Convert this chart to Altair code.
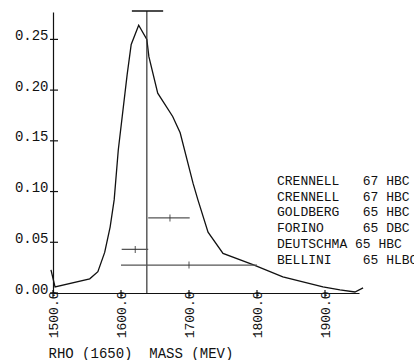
import altair as alt
import pandas as pd

NB = "\u00a0"

# Ideogram curve (mass MeV, weight)
curve_mass = [1497, 1503, 1554, 1566, 1576, 1584, 1590, 1596, 1609, 1615, 1626,
              1638, 1641, 1654, 1676, 1687, 1706, 1713, 1728, 1750, 1794, 1838,
              1897, 1922, 1944, 1956]
curve_val = [0.0227, 0.006, 0.014, 0.021, 0.040, 0.065, 0.092, 0.141, 0.215, 0.245,
             0.264, 0.250, 0.233, 0.197, 0.174, 0.158, 0.108, 0.092, 0.060, 0.039,
             0.028, 0.016, 0.006, 0.003, 0.001, 0.005]

# Average mass and its error (vertical line with top bar)
avg_mass = 1638
avg_lo = 1616
avg_hi = 1662
avg_top = 0.278

# Measurements (error bars)
meas_mass = [1672, 1621, 1700]
meas_lo = [1640, 1601, 1600]
meas_hi = [1701, 1640, 1800]
meas_y = [0.074, 0.043, 0.0275]

# Legend entries
leg_name = ["CRENNELL", "CRENNELL", "GOLDBERG", "FORINO", "DEUTSCHMA", "BELLINI"]
leg_year = ["67", "67", "65", "65", "65", "65"]
leg_kind = ["HBC", "HBC", "HBC", "DBC", "HBC", "HLBC"]

x_ticks = [1500, 1600, 1700, 1800, 1900]
y_ticks = [0.0, 0.05, 0.10, 0.15, 0.20, 0.25]

FONT = "Liberation Mono"
W, H = 306, 281

xs = alt.Scale(domain=[1500, 1950], nice=False, zero=False)
ys = alt.Scale(domain=[0, 0.277], nice=False, zero=True)

curve_df = pd.DataFrame({"m": curve_mass, "v": curve_val, "o": range(len(curve_mass))})
meas_df = pd.DataFrame({"m": meas_mass, "lo": meas_lo, "hi": meas_hi, "y": meas_y})
avg_df = pd.DataFrame({"m": [avg_mass], "lo": [avg_lo], "hi": [avg_hi], "top": [avg_top], "b": [0.0]})
yt_df = pd.DataFrame({"v": y_ticks})
xt_df = pd.DataFrame({"m": x_ticks})

axis_x = alt.Axis(values=x_ticks, format=".1f", labelAngle=-90, tickSize=0,
                  labelPadding=-2, labelFont=FONT, labelFontSize=13, labelColor="#111",
                  domainColor="#111", domainWidth=1.2, grid=False,
                  title=f"RHO{NB}(1650){NB}{NB}MASS{NB}(MEV)", titleFont=FONT,
                  titleFontSize=14, titleFontWeight="normal", titleColor="#111",
                  titleAnchor="start", titleAlign="left", titleX=-5, titleY=64,
                  titleBaseline="alphabetic")
axis_y = alt.Axis(values=y_ticks, format=".2f", tickSize=0, labelPadding=5,
                  labelFont=FONT, labelFontSize=14, labelColor="#111",
                  labelBaseline="alphabetic", labelAlign="right",
                  domainColor="#111", domainWidth=1.2, grid=False, title=None)

curve = alt.Chart(curve_df).mark_line(color="#111", strokeWidth=1.3).encode(
    x=alt.X("m:Q", scale=xs, axis=axis_x),
    y=alt.Y("v:Q", scale=ys, axis=axis_y),
    order="o:Q",
)

avg_line = alt.Chart(avg_df).mark_rule(color="#333", strokeWidth=1.2).encode(
    x="m:Q", y="b:Q", y2="top:Q")
avg_bar = alt.Chart(avg_df).mark_rule(color="#111", strokeWidth=1.3).encode(
    x="lo:Q", x2="hi:Q", y="top:Q")

bars = alt.Chart(meas_df).mark_rule(color="#555", strokeWidth=1.3).encode(
    x="lo:Q", x2="hi:Q", y="y:Q")
centers = alt.Chart(meas_df).mark_tick(color="#333", orient="vertical", size=7,
                                       thickness=1.2).encode(x="m:Q", y="y:Q")

yticks = alt.Chart(yt_df).mark_rule(color="#111", strokeWidth=1.2).encode(
    y="v:Q", x=alt.value(-3), x2=alt.value(5))
xticks = alt.Chart(xt_df).mark_rule(color="#111", strokeWidth=1.2).encode(
    x="m:Q", y=alt.value(H - 3), y2=alt.value(H + 5))

layers = [curve, avg_line, avg_bar, bars, centers, yticks, xticks]

dummy = pd.DataFrame({"a": [0]})
for i, (n, yr, k) in enumerate(zip(leg_name, leg_year, leg_kind)):
    pad = 10 if len(n) >= 9 else 11
    s = n.ljust(pad).replace(" ", NB) + yr + NB + k
    layers.append(
        alt.Chart(dummy).mark_text(font=FONT, fontSize=13, align="left",
                                   baseline="alphabetic", color="#111").encode(
            x=alt.value(224), y=alt.value(173 + 15.7 * i), text=alt.value(s))
    )

chart = alt.layer(*layers).properties(
    width=W, height=H,
    autosize=alt.AutoSizeParams(type="none"),
    padding={"left": 53, "top": 12, "right": 414 - 53 - W, "bottom": 360 - 12 - H},
    background="white",
).configure_view(stroke=None)

chart.save("out.html", embed_options={"renderer": "svg", "actions": False})
